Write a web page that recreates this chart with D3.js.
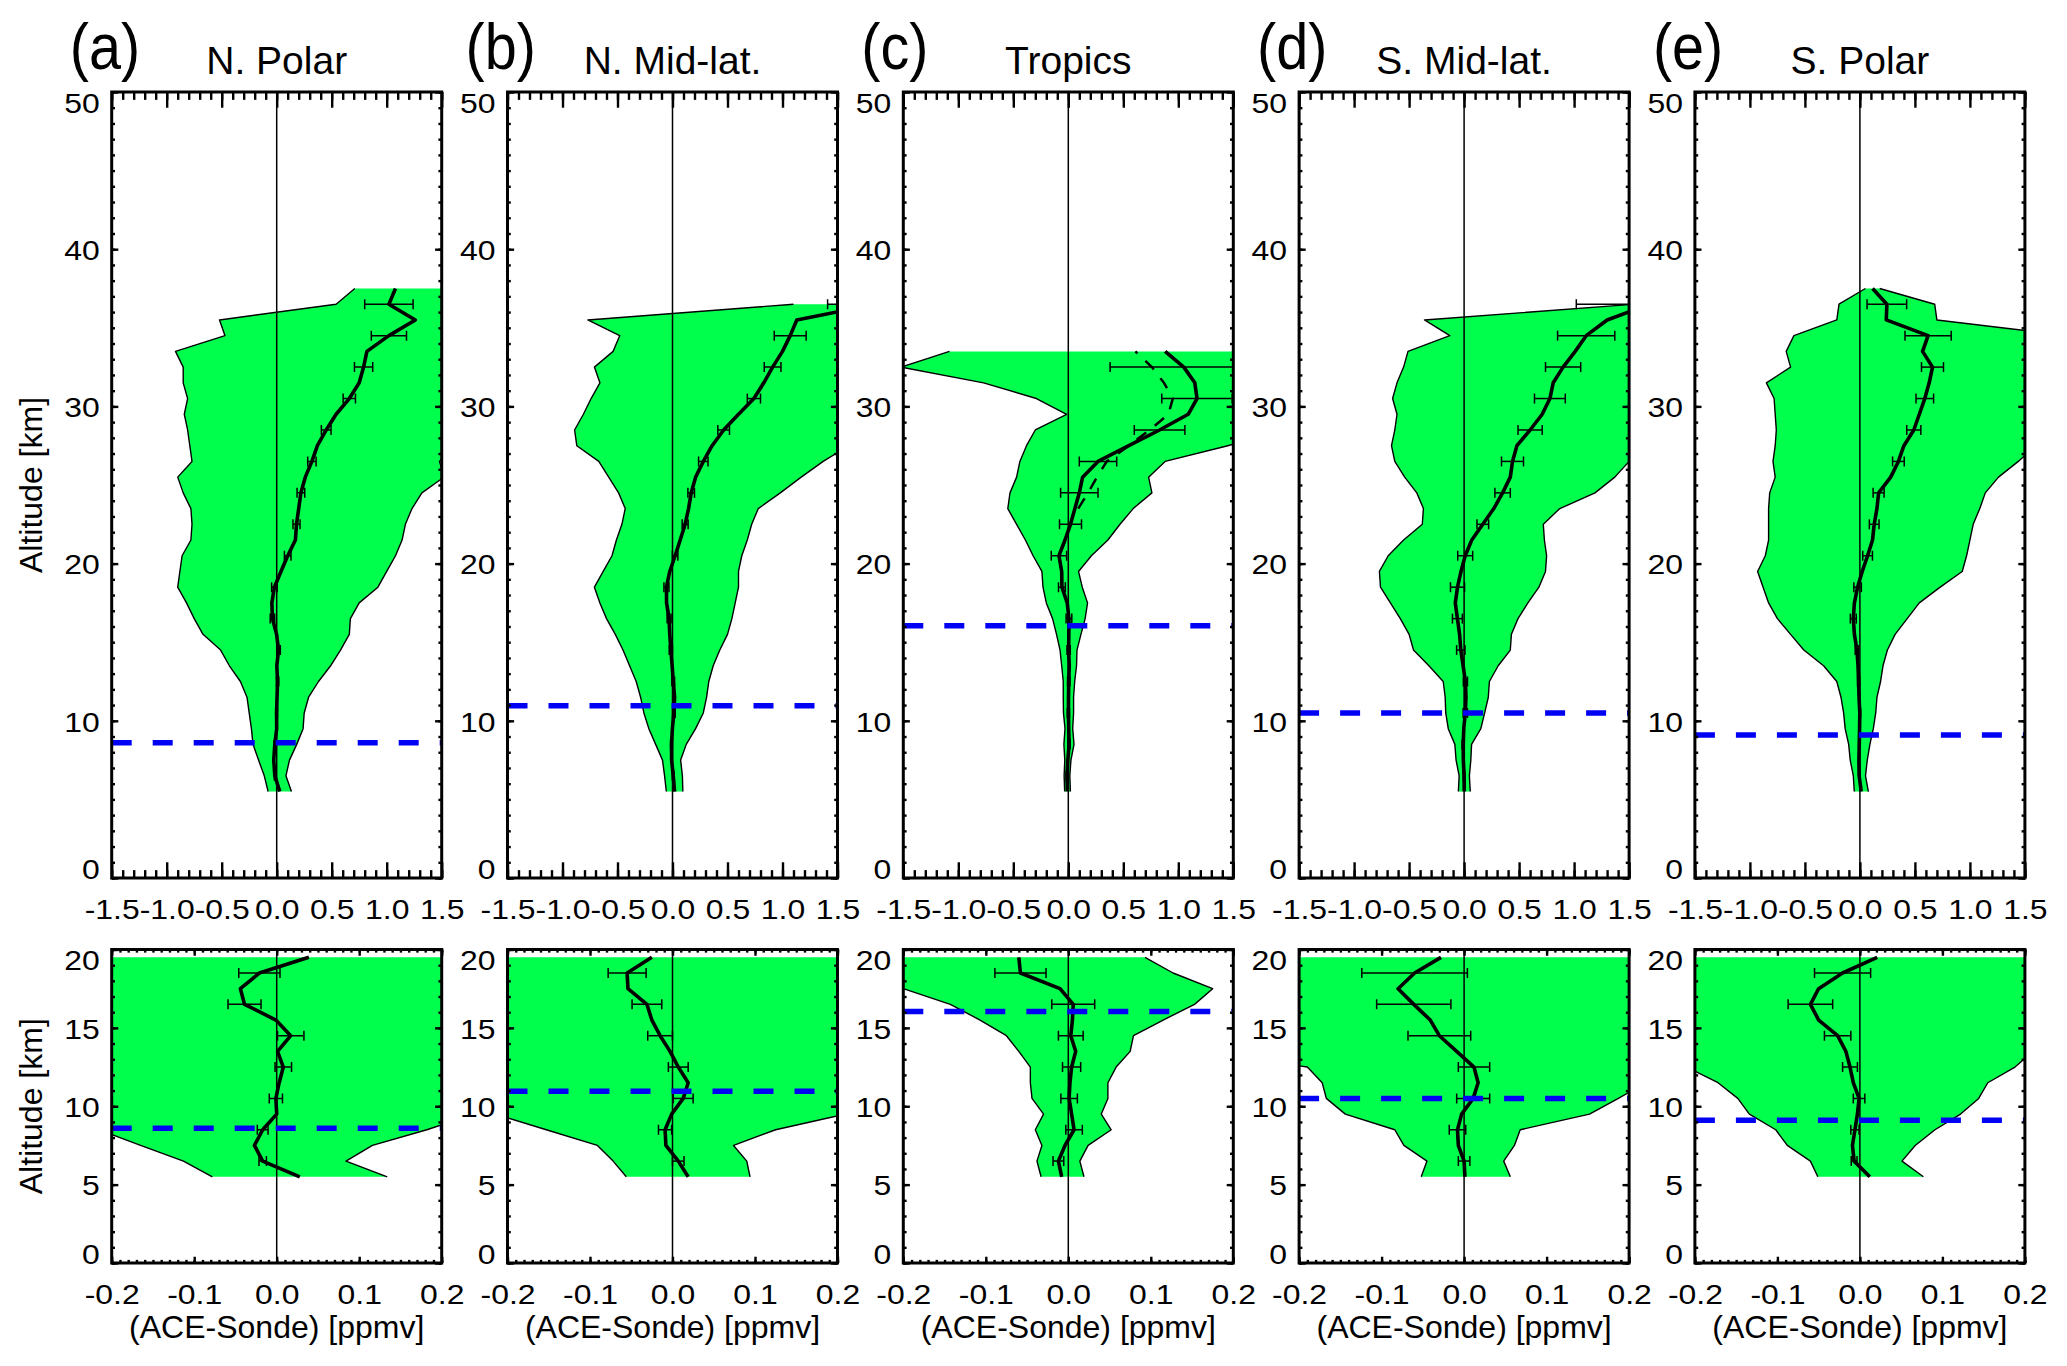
<!DOCTYPE html>
<html>
<head>
<meta charset="utf-8">
<script src="https://cdn.jsdelivr.net/npm/d3@7"></script>
<style>
  body { margin: 0; background: #ffffff; }
  svg { display: block; }
</style>
</head>
<body>
<svg id="chart" width="2067" height="1366"></svg>
<script>
// ---------------- DATA ----------------
const panelLetters = ["(a)", "(b)", "(c)", "(d)", "(e)"];
const regionNames = ["N. Polar", "N. Mid-lat.", "Tropics", "S. Mid-lat.", "S. Polar"];

// altitude levels [km] of the profiles
const altitudes = [5.5, 6.5, 7.5, 8.5, 9.5, 10.5, 11.5, 12.5, 13.5, 14.5, 15.5, 16.5, 17.5, 18.5, 19.5,
  20.5, 21.5, 22.5, 23.5, 24.5, 25.5, 26.5, 27.5, 28.5, 29.5, 30.5, 31.5, 32.5, 33.5, 34.5, 35.5, 36.5, 37.5];
// altitudes at which error bars are drawn
const errAltitudes = [6.5, 8.5, 10.5, 12.5, 14.5, 16.5, 18.5, 20.5, 22.5, 24.5, 26.5, 28.5, 30.5, 32.5, 34.5, 36.5];

// (a) N. Polar
const meanNPolar = [0.028, -0.017, -0.027, -0.017, 0.000, -0.001, 0.003, 0.008, 0.001, 0.017, -0.001, -0.039, -0.044, -0.021, 0.039,
  0.10, 0.17, 0.18, 0.20, 0.22, 0.26, 0.32, 0.37, 0.45, 0.54, 0.66, 0.75, 0.79, 0.82, 1.02, 1.26, 1.02, 1.08];
const lowNPolar = [-0.078, -0.113, -0.165, -0.215, -0.23, -0.25, -0.27, -0.33, -0.43, -0.51, -0.67, -0.75, -0.82, -0.90, -0.88,
  -0.86, -0.78, -0.77, -0.78, -0.85, -0.90, -0.77, -0.79, -0.81, -0.84, -0.81, -0.85, -0.85, -0.92, -0.47, -0.52, 0.54, 0.71];
const highNPolar = [0.134, 0.084, 0.116, 0.182, 0.24, 0.25, 0.29, 0.38, 0.49, 0.58, 0.66, 0.67, 0.75, 0.92, 1.00,
  1.08, 1.14, 1.17, 1.23, 1.32, 1.52, 1.48, 1.60, 1.65, 1.70, 1.75, 1.80, 1.80, 1.85, 1.90, 1.95, 2.00, 2.00];
const errNPolar = [0.0045, 0.0065, 0.008, 0.010, 0.016, 0.020, 0.025, 0.030, 0.032, 0.035, 0.038, 0.044, 0.056, 0.083, 0.16, 0.22];

// (b) N. Mid-lat.
const meanNMid = [0.019, 0.007, -0.008, -0.009, -0.001, 0.013, 0.019, 0.007, -0.003, -0.015, -0.025, -0.031, -0.054, -0.055, -0.025,
  0.024, 0.07, 0.115, 0.146, 0.17, 0.21, 0.28, 0.36, 0.465, 0.60, 0.74, 0.83, 0.91, 1.00, 1.07, 1.13, 1.85];
const lowNMid = [-0.056, -0.072, -0.091, -0.153, -0.215, -0.26, -0.29, -0.33, -0.39, -0.45, -0.52, -0.60, -0.66, -0.71, -0.63,
  -0.55, -0.51, -0.46, -0.43, -0.49, -0.58, -0.67, -0.87, -0.89, -0.81, -0.74, -0.66, -0.71, -0.54, -0.48, -0.77, 1.10];
const highNMid = [0.094, 0.09, 0.074, 0.125, 0.21, 0.28, 0.31, 0.33, 0.37, 0.43, 0.50, 0.54, 0.57, 0.60, 0.60,
  0.63, 0.68, 0.72, 0.78, 0.98, 1.17, 1.37, 1.60, 1.70, 1.75, 1.80, 1.85, 1.90, 1.95, 2.00, 2.05, 2.10];
const errNMid = [0.007, 0.008, 0.012, 0.012, 0.015, 0.018, 0.023, 0.025, 0.027, 0.030, 0.043, 0.053, 0.060, 0.076, 0.145, 0.44];

// (c) Tropics
const meanTropics = [-0.008, -0.012, -0.004, 0.007, 0.004, 0.001, 0.002, 0.004, 0.009, 0.003, 0.005, 0.006, -0.010, -0.058, -0.060,
  -0.085, -0.03, 0.02, 0.06, 0.10, 0.13, 0.27, 0.55, 0.83, 1.09, 1.17, 1.15, 1.05, 0.88];
const lowTropics = [-0.033, -0.038, -0.032, -0.040, -0.030, -0.044, -0.046, -0.046, -0.060, -0.075, -0.107, -0.143, -0.20, -0.23, -0.24,
  -0.32, -0.39, -0.47, -0.55, -0.53, -0.47, -0.44, -0.38, -0.30, -0.015, -0.29, -0.77, -1.52, -1.08];
const highTropics = [0.019, 0.014, 0.024, 0.052, 0.040, 0.048, 0.048, 0.058, 0.075, 0.079, 0.115, 0.153, 0.175, 0.127, 0.093,
  0.21, 0.36, 0.47, 0.59, 0.76, 0.73, 0.88, 1.45, 2.0, 2.2, 2.3, 2.3, 2.2, 2.0];
const errTropics = [0.0065, 0.010, 0.010, 0.011, 0.015, 0.026, 0.031, 0.07, 0.10, 0.17, 0.17, 0.23, 0.32, 0.67];
// second (dashed) tropical profile
const tropicsDashedAlt = [23.5, 24.5, 25.5, 26.5, 27.5, 28.5, 29.5, 30.5, 31.5, 32.5, 33.5];
const tropicsDashed = [0.09, 0.18, 0.26, 0.35, 0.55, 0.74, 0.91, 0.95, 0.87, 0.76, 0.61];

// (d) S. Mid-lat.
const meanSMid = [0.001, 0.000, -0.007, -0.008, -0.003, 0.011, 0.017, 0.012, -0.009, -0.030, -0.041, -0.061, -0.080, -0.060, -0.028,
  0.01, 0.07, 0.17, 0.27, 0.35, 0.42, 0.44, 0.48, 0.60, 0.71, 0.78, 0.81, 0.90, 1.01, 1.11, 1.30, 1.69];
const lowSMid = [-0.052, -0.045, -0.073, -0.084, -0.144, -0.167, -0.172, -0.19, -0.32, -0.46, -0.50, -0.58, -0.67, -0.76, -0.77,
  -0.69, -0.55, -0.38, -0.37, -0.43, -0.54, -0.63, -0.66, -0.63, -0.61, -0.65, -0.61, -0.55, -0.51, -0.13, -0.36, 1.55];
const highSMid = [0.056, 0.048, 0.061, 0.068, 0.152, 0.187, 0.22, 0.23, 0.31, 0.42, 0.43, 0.49, 0.58, 0.68, 0.74,
  0.75, 0.73, 0.72, 0.87, 1.19, 1.37, 1.50, 1.60, 1.70, 1.75, 1.80, 1.85, 1.90, 1.95, 2.00, 2.05, 2.10];
const errSMid = [0.007, 0.010, 0.020, 0.019, 0.038, 0.045, 0.064, 0.068, 0.053, 0.07, 0.10, 0.11, 0.14, 0.16, 0.26, 0.67];

// (e) S. Polar
const meanSPolar = [0.012, -0.007, -0.009, -0.006, -0.003, -0.001, -0.008, -0.012, -0.017, -0.027, -0.050, -0.060, -0.050, -0.021, 0.021,
  0.07, 0.115, 0.13, 0.155, 0.17, 0.28, 0.35, 0.40, 0.49, 0.54, 0.59, 0.63, 0.66, 0.57, 0.62, 0.24, 0.245, 0.115];
const lowSPolar = [-0.051, -0.060, -0.088, -0.102, -0.134, -0.148, -0.172, -0.21, -0.33, -0.51, -0.63, -0.75, -0.83, -0.88, -0.93,
  -0.86, -0.83, -0.83, -0.83, -0.82, -0.77, -0.79, -0.77, -0.76, -0.77, -0.78, -0.85, -0.63, -0.67, -0.60, -0.21, -0.19, 0.05];
const highSPolar = [0.077, 0.051, 0.067, 0.091, 0.122, 0.144, 0.155, 0.188, 0.21, 0.25, 0.32, 0.43, 0.54, 0.73, 0.93,
  0.97, 1.00, 1.03, 1.09, 1.14, 1.26, 1.44, 1.60, 1.70, 1.75, 1.80, 1.80, 1.85, 1.90, 1.90, 0.70, 0.68, 0.18];
const errSPolar = [0.0035, 0.005, 0.007, 0.009, 0.016, 0.027, 0.034, 0.044, 0.044, 0.05, 0.053, 0.064, 0.08, 0.10, 0.21, 0.18];

// tropopause altitude [km] per region
const tropopause = [8.6, 10.95, 16.05, 10.5, 9.1];

// axes ticks / labels
const topXTicks = [-1.5, -1.0, -0.5, 0.0, 0.5, 1.0, 1.5];
const topXTickLabels = ["-1.5", "-1.0", "-0.5", "0.0", "0.5", "1.0", "1.5"];
const topYTicks = [0, 10, 20, 30, 40, 50];
const bottomXTicks = [-0.2, -0.1, 0.0, 0.1, 0.2];
const bottomXTickLabels = ["-0.2", "-0.1", "0.0", "0.1", "0.2"];
const bottomYTicks = [0, 5, 10, 15, 20];
const yAxisTitle = "Altitude [km]";
const xAxisTitle = "(ACE-Sonde) [ppmv]";

// ---------------- LAYOUT / STYLE ----------------
const FONT = "'Liberation Sans', Arial, Helvetica, sans-serif";
const GREEN = "#00ff4c";
const BLUE = "#0000f5";
const TICK_FS = 28, TICK_SX = 1.14;
const panelLeft0 = 111.7, panelStep = 395.8, panelWidth = 330;

const regions = [
  { mean: meanNPolar, low: lowNPolar, high: highNPolar, err: errNPolar },
  { mean: meanNMid, low: lowNMid, high: highNMid, err: errNMid },
  { mean: meanTropics, low: lowTropics, high: highTropics, err: errTropics,
    dashedAlt: tropicsDashedAlt, dashed: tropicsDashed },
  { mean: meanSMid, low: lowSMid, high: highSMid, err: errSMid },
  { mean: meanSPolar, low: lowSPolar, high: highSPolar, err: errSPolar }
];

const rows = [
  { top: 92, bottom: 878, xDomain: [-1.5, 1.5], yDomain: [0, 50],
    xTicks: topXTicks, xLabels: topXTickLabels, xMinorStep: 0.1,
    yTicks: topYTicks, yMinorStep: 1 },
  { top: 949.5, bottom: 1263, xDomain: [-0.2, 0.2], yDomain: [0, 20],
    xTicks: bottomXTicks, xLabels: bottomXTickLabels, xMinorStep: 0.01,
    yTicks: bottomYTicks, yMinorStep: 1 }
];

const svg = d3.select("#chart");
const defs = svg.append("defs");

function minorValues(domain, step) {
  const n = Math.round((domain[1] - domain[0]) / step);
  return d3.range(n + 1).map(i => +(domain[0] + i * step).toFixed(4));
}

function styleAxis(sel) {
  sel.attr("font-family", FONT).attr("font-size", TICK_FS);
  sel.select(".domain").remove();
  sel.selectAll(".tick line").attr("stroke", "#000").attr("stroke-width", 2.4);
  sel.selectAll(".tick text").attr("fill", "#000");
}

rows.forEach((row, ri) => {
  regions.forEach((reg, pi) => {
    const left = panelLeft0 + pi * panelStep;
    const right = left + panelWidth;
    const x = d3.scaleLinear().domain(row.xDomain).range([left, right]);
    const y = d3.scaleLinear().domain(row.yDomain).range([row.bottom, row.top]);
    const g = svg.append("g");

    const clipId = `clip-${ri}-${pi}`;
    defs.append("clipPath").attr("id", clipId).append("rect")
      .attr("x", left).attr("y", row.top)
      .attr("width", panelWidth).attr("height", row.bottom - row.top);

    const pts = reg.mean.map((m, k) => ({ alt: altitudes[k], mean: m, lo: reg.low[k], hi: reg.high[k] }))
      .filter(d => d.alt <= row.yDomain[1]);
    const meanByAlt = new Map(pts.map(d => [d.alt, d.mean]));

    const plot = g.append("g").attr("clip-path", `url(#${clipId})`);

    // green spread band
    plot.append("path").datum(pts)
      .attr("d", d3.area().y(d => y(d.alt)).x0(d => x(d.lo)).x1(d => x(d.hi)))
      .attr("fill", GREEN).attr("stroke", "none");
    // band outlines
    ["lo", "hi"].forEach(key => {
      plot.append("path").datum(pts)
        .attr("d", d3.line().x(d => x(d[key])).y(d => y(d.alt)))
        .attr("fill", "none").attr("stroke", "#000").attr("stroke-width", 1.4)
        .attr("stroke-linejoin", "round");
    });

    // zero line
    plot.append("line")
      .attr("x1", x(0)).attr("x2", x(0))
      .attr("y1", y(row.yDomain[0])).attr("y2", y(row.yDomain[1]))
      .attr("stroke", "#000").attr("stroke-width", 1.5);

    // dashed second profile (tropics)
    if (reg.dashed) {
      const dpts = reg.dashed.map((v, k) => ({ alt: reg.dashedAlt[k], v }))
        .filter(d => d.alt <= row.yDomain[1]);
      if (dpts.length) {
        plot.append("path").datum(dpts)
          .attr("d", d3.line().x(d => x(d.v)).y(d => y(d.alt)))
          .attr("fill", "none").attr("stroke", "#000").attr("stroke-width", 2.5)
          .attr("stroke-dasharray", "12 11");
      }
    }

    // mean difference profile
    plot.append("path").datum(pts)
      .attr("d", d3.line().x(d => x(d.mean)).y(d => y(d.alt)))
      .attr("fill", "none").attr("stroke", "#000").attr("stroke-width", 3.6)
      .attr("stroke-linejoin", "round");

    // error bars
    const ebs = reg.err.map((e, k) => ({ alt: errAltitudes[k], e }))
      .filter(d => d.alt <= row.yDomain[1] && meanByAlt.has(d.alt))
      .map(d => ({ alt: d.alt, lo: meanByAlt.get(d.alt) - d.e, hi: meanByAlt.get(d.alt) + d.e }));
    const eg = plot.append("g").attr("stroke", "#000").attr("stroke-width", 1.5);
    eg.selectAll("line.eb").data(ebs).join("line").attr("class", "eb")
      .attr("x1", d => x(d.lo)).attr("x2", d => x(d.hi))
      .attr("y1", d => y(d.alt)).attr("y2", d => y(d.alt));
    eg.selectAll("line.capl").data(ebs).join("line").attr("class", "capl")
      .attr("x1", d => x(d.lo)).attr("x2", d => x(d.lo))
      .attr("y1", d => y(d.alt) - 5).attr("y2", d => y(d.alt) + 5);
    eg.selectAll("line.capr").data(ebs).join("line").attr("class", "capr")
      .attr("x1", d => x(d.hi)).attr("x2", d => x(d.hi))
      .attr("y1", d => y(d.alt) - 5).attr("y2", d => y(d.alt) + 5);

    // tropopause
    plot.append("line")
      .attr("x1", x(row.xDomain[0])).attr("x2", x(row.xDomain[1]))
      .attr("y1", y(tropopause[pi])).attr("y2", y(tropopause[pi]))
      .attr("stroke", BLUE).attr("stroke-width", 5.5)
      .attr("stroke-dasharray", "20 21");

    // axes (ticks inward on all four sides)
    const xLen = 0.02 * (row.bottom - row.top);
    const yLen = 0.02 * panelWidth;
    const xMinor = minorValues(row.xDomain, row.xMinorStep);
    const yMinor = minorValues(row.yDomain, row.yMinorStep);

    g.append("g").attr("transform", `translate(0,${row.bottom})`)
      .call(d3.axisBottom(x).tickValues(xMinor).tickFormat("").tickSize(-xLen / 2))
      .call(styleAxis);
    g.append("g").attr("transform", `translate(0,${row.bottom})`)
      .call(d3.axisBottom(x).tickValues(row.xTicks).tickFormat((d, i) => row.xLabels[i])
        .tickSize(-xLen).tickPadding(21))
      .call(styleAxis)
      .call(s => s.selectAll(".tick text").attr("transform", `scale(${TICK_SX},1)`));
    g.append("g").attr("transform", `translate(0,${row.top})`)
      .call(d3.axisTop(x).tickValues(xMinor).tickFormat("").tickSize(-xLen / 2))
      .call(styleAxis);
    g.append("g").attr("transform", `translate(0,${row.top})`)
      .call(d3.axisTop(x).tickValues(row.xTicks).tickFormat("").tickSize(-xLen))
      .call(styleAxis);

    g.append("g").attr("transform", `translate(${left},0)`)
      .call(d3.axisLeft(y).tickValues(yMinor).tickFormat("").tickSize(-yLen / 2))
      .call(styleAxis);
    const yMax = row.yDomain[1], yMin = row.yDomain[0];
    g.append("g").attr("transform", `translate(${left},0)`)
      .call(d3.axisLeft(y).tickValues(row.yTicks).tickFormat(d3.format("d"))
        .tickSize(-yLen).tickPadding(12))
      .call(styleAxis)
      .call(s => s.selectAll(".tick text")
        .attr("x", -12 / TICK_SX)
        .attr("transform", `scale(${TICK_SX},1)`)
        .attr("dy", d => d === yMax ? "0.73em" : (d === yMin ? "0em" : "0.37em")));
    g.append("g").attr("transform", `translate(${right},0)`)
      .call(d3.axisRight(y).tickValues(yMinor).tickFormat("").tickSize(-yLen / 2))
      .call(styleAxis);
    g.append("g").attr("transform", `translate(${right},0)`)
      .call(d3.axisRight(y).tickValues(row.yTicks).tickFormat("").tickSize(-yLen))
      .call(styleAxis);

    // frame
    g.append("rect")
      .attr("x", left).attr("y", row.top)
      .attr("width", panelWidth).attr("height", row.bottom - row.top)
      .attr("fill", "none").attr("stroke", "#000").attr("stroke-width", 3);

    if (ri === 0) {
      g.append("text")
        .attr("transform", `translate(${left - 42},69) scale(0.9,1)`)
        .attr("font-family", FONT).attr("font-size", 64).attr("fill", "#000")
        .text(panelLetters[pi]);
      g.append("text").attr("x", (left + right) / 2).attr("y", 74)
        .attr("text-anchor", "middle")
        .attr("font-family", FONT).attr("font-size", 39).attr("fill", "#000")
        .text(regionNames[pi]);
    } else {
      g.append("text").attr("x", (left + right) / 2).attr("y", 1338)
        .attr("text-anchor", "middle")
        .attr("font-family", FONT).attr("font-size", 32).attr("fill", "#000")
        .text(xAxisTitle);
    }
    if (pi === 0) {
      g.append("text")
        .attr("transform", `translate(42,${(row.top + row.bottom) / 2}) rotate(-90)`)
        .attr("text-anchor", "middle")
        .attr("font-family", FONT).attr("font-size", 32).attr("fill", "#000")
        .text(yAxisTitle);
    }
  });
});
</script>
</body>
</html>
